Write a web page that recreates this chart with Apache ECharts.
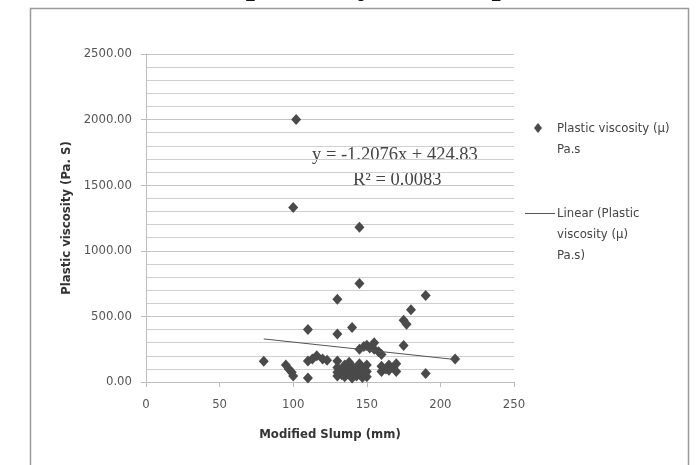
<!DOCTYPE html>
<html>
<head>
<meta charset="utf-8">
<script src="https://cdn.jsdelivr.net/npm/echarts@6/dist/echarts.min.js"></script>
<style>
  html, body { margin: 0; padding: 0; background: #fff; }
  #chart { width: 696px; height: 465px; }
</style>
</head>
<body>
<div id="chart"></div>
<script>
// Modified slump (mm) of each mix
const slump = [
  102, 100, 145, 145, 130, 190, 180, 175, 177, 110, 140, 130, 175, 210, 190,
  80, 95, 97, 99, 100, 110, 110, 113, 116, 120, 123,
  130, 130, 130, 130, 133, 133, 135, 135, 135, 138, 138, 138, 140, 140, 140,
  143, 143, 145, 145, 145, 147, 147, 148, 150, 150, 150, 150, 152, 155, 155,
  158, 160, 160, 160, 163, 165, 165, 168, 170, 170
];
// Plastic viscosity (Pa.s) of each mix
const viscosity = [
  2000, 1330, 1180, 750, 630, 660, 550, 470, 440, 400, 415, 365, 278, 175, 65,
  158, 130, 100, 75, 45, 30, 160, 175, 200, 175, 165,
  160, 110, 75, 45, 90, 55, 130, 80, 40, 150, 100, 60, 120, 70, 30,
  90, 45, 250, 140, 60, 100, 35, 270, 280, 130, 80, 40, 260, 300, 250,
  230, 210, 120, 80, 100, 130, 90, 110, 140, 80
];
// Linear trendline coefficients
const trendSlope = -1.2076;
const trendIntercept = 424.83;
const trendR2 = 0.0083;

const points = slump.map((x, i) => [x, viscosity[i]]);
const xMin = Math.min(...slump);
const xMax = Math.max(...slump);
const trendPoints = [xMin, xMax].map(x => [x, trendSlope * x + trendIntercept]);

const sansFont = "'Liberation Sans Narrow', 'DejaVu Sans Condensed', 'Liberation Sans', sans-serif";
const serifFont = "'Liberation Serif', 'DejaVu Serif', serif";
const markColor = '#4a4a4a';

const chart = echarts.init(document.getElementById('chart'), null, { renderer: 'canvas' });

chart.setOption({
  backgroundColor: '#ffffff',
  animation: false,
  grid: { left: 146, right: 182, top: 54, bottom: 83, containLabel: false },
  xAxis: {
    type: 'value',
    min: 0, max: 250, interval: 50,
    name: 'Modified Slump (mm)',
    nameLocation: 'middle',
    nameGap: 46,
    nameTextStyle: { fontFamily: sansFont, fontSize: 13, fontWeight: 'bold', color: '#333' },
    axisLine: { show: true, lineStyle: { color: '#bdbdbd', width: 1 } },
    axisTick: { show: true, length: 5, lineStyle: { color: '#bdbdbd' } },
    axisLabel: { fontFamily: sansFont, fontSize: 13, color: '#555', margin: 16 },
    splitLine: { show: false }
  },
  yAxis: {
    type: 'value',
    min: 0, max: 2500, interval: 500,
    name: 'Plastic viscosity (Pa. S)',
    nameLocation: 'middle',
    nameGap: 66,
    nameTextStyle: { fontFamily: sansFont, fontSize: 13, fontWeight: 'bold', color: '#333' },
    axisLine: { show: true, lineStyle: { color: '#bdbdbd', width: 1 } },
    axisTick: { show: true, length: 5, lineStyle: { color: '#bdbdbd' } },
    axisLabel: {
      fontFamily: sansFont, fontSize: 13, color: '#555', margin: 14,
      formatter: v => v.toFixed(2)
    },
    splitLine: { show: true, lineStyle: { color: '#c4c4c4', width: 1 } },
    minorTick: { show: false, splitNumber: 5 },
    minorSplitLine: { show: true, lineStyle: { color: '#cfcfcf', width: 1 } }
  },
  series: [
    {
      name: 'Plastic viscosity (µ) Pa.s',
      type: 'scatter',
      data: points,
      symbol: 'diamond',
      symbolSize: [10, 11],
      itemStyle: { color: markColor, opacity: 1 },
      z: 3
    },
    {
      name: 'Linear (Plastic viscosity (µ) Pa.s)',
      type: 'line',
      data: trendPoints,
      symbol: 'none',
      lineStyle: { color: '#555555', width: 1 },
      z: 4
    }
  ],
  graphic: [
    // chart frame
    {
      type: 'rect', silent: true,
      shape: { x: 30.5, y: 8.5, width: 658, height: 480 },
      style: { fill: 'none', stroke: '#9a9a9a', lineWidth: 1.5 }
    },
    // caption cut off at the top edge
    {
      type: 'text', silent: true,
      style: {
        x: 178, y: 1.5, text: 'Compatibility of Slump test.',
        font: 'bold 33px ' + serifFont, fill: '#111',
        textVerticalAlign: 'bottom'
      }
    },
    // trendline equation
    {
      type: 'text', silent: true,
      style: {
        x: 312, y: 155, text: 'y = ' + trendSlope.toFixed(4) + 'x + ' + trendIntercept.toFixed(2),
        font: '18.5px ' + serifFont, fill: '#444', textVerticalAlign: 'middle'
      }
    },
    {
      type: 'text', silent: true,
      style: {
        x: 353, y: 180, text: 'R² = ' + trendR2.toFixed(4),
        font: '18.5px ' + serifFont, fill: '#444', textVerticalAlign: 'middle'
      }
    },
    // legend
    {
      type: 'polygon', silent: true,
      shape: { points: [[538, 123], [542, 128], [538, 133], [534, 128]] },
      style: { fill: markColor }
    },
    {
      type: 'text', silent: true,
      style: {
        x: 557, y: 139, text: 'Plastic viscosity (µ)\nPa.s',
        font: '13px ' + sansFont, fill: '#444', lineHeight: 21,
        textVerticalAlign: 'middle'
      }
    },
    {
      type: 'line', silent: true,
      shape: { x1: 525, y1: 213.5, x2: 555, y2: 213.5 },
      style: { stroke: '#555', lineWidth: 1 }
    },
    {
      type: 'text', silent: true,
      style: {
        x: 557, y: 235, text: 'Linear (Plastic\nviscosity (µ)\nPa.s)',
        font: '13px ' + sansFont, fill: '#444', lineHeight: 21,
        textVerticalAlign: 'middle'
      }
    }
  ]
});
</script>
</body>
</html>
